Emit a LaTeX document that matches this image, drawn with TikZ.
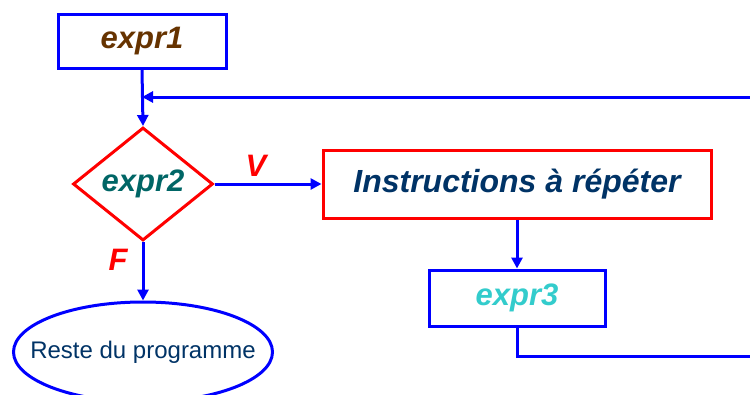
\documentclass[tikz,border=0pt]{standalone}
\usepackage{fontspec}
\setmainfont{Liberation Sans}
\usetikzlibrary{shapes.geometric,arrows.meta}
\definecolor{cblue}{RGB}{0,0,255}
\definecolor{cred}{RGB}{255,0,0}
\definecolor{cbrown}{RGB}{102,51,0}
\definecolor{cteal}{RGB}{0,102,102}
\definecolor{ccyan}{RGB}{51,204,204}
\definecolor{cnavy}{RGB}{0,51,102}
\tikzset{
  box/.style={draw=cblue, line width=3pt, rectangle, inner sep=0pt, fill=white},
  lbl/.style={font=\fontsize{31}{36}\selectfont\bfseries\itshape},
  conn/.style={draw=cblue, line width=3pt},
  arr/.style={conn, -{Triangle[length=11pt,width=11pt]}},
}
\begin{document}
\begin{tikzpicture}[x=1pt,y=-1pt]
\useasboundingbox (0,0) rectangle (750,394);
\node[box, minimum width=168pt, minimum height=54pt, lbl, text=cbrown] (e1) at (142,41) {expr1};
\node[draw=cred, line width=3pt, diamond, aspect=1.24, minimum width=140pt, minimum height=113pt, inner sep=0pt, lbl, text=cteal] (e2) at (143,184) {expr2};
\node[box, draw=cred, minimum width=388pt, minimum height=68pt, lbl, font=\fontsize{32}{36}\selectfont\bfseries\itshape, text=cnavy] (ins) at (517,184) {Instructions à répéter};
\node[box, minimum width=176pt, minimum height=56pt, lbl, text=ccyan] (e3) at (517,298) {expr3};
\node[draw=cblue, line width=3pt, ellipse, minimum width=259pt, minimum height=100pt, inner xsep=-22pt, inner ysep=0pt, text=cnavy, font=\fontsize{24}{28}\selectfont] (rest) at (143,352) {Reste du programme};
\coordinate (r1) at (752,97);
\coordinate (r2) at (752,356);
\draw[arr] (e1.south) -- (e2.north);
\draw[arr] (r1) -- (r1 -| e1.south) ;
\draw[arr] (e2.east) -- (ins.west);
\draw[arr] (ins.south) -- (e3.north);
\draw[conn] (e3.south) |- (r2);
\draw[arr] (e2.south) -- (rest.north);
\node[lbl, text=cred] (v) at (256,166) {V};
\node[lbl, text=cred] (f) at (118,260) {F};
\end{tikzpicture}
\end{document}
